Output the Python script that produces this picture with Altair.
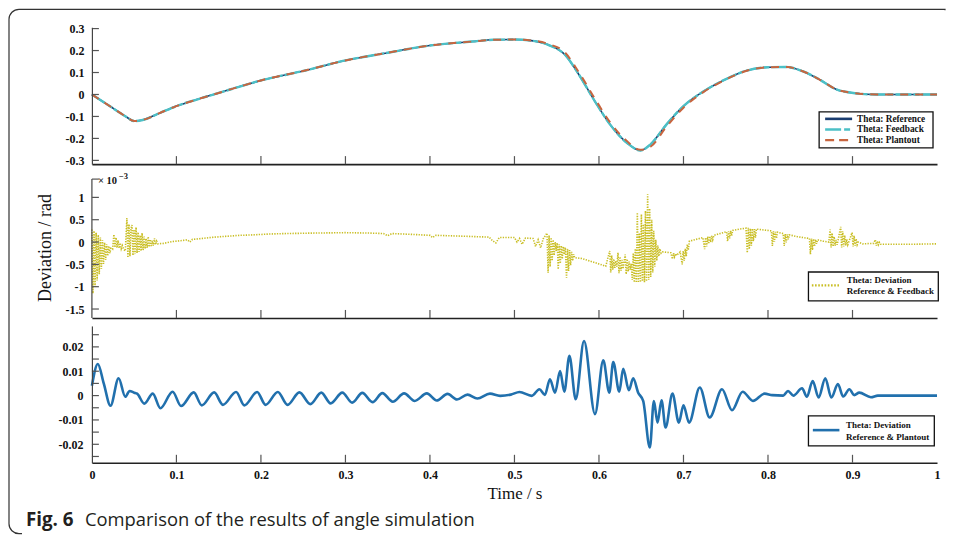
import altair as alt
import pandas as pd

# ---------------- data ----------------
# Top panel: Theta (rad)
theta_t = [0.0, 0.02, 0.04, 0.05, 0.06, 0.08, 0.10, 0.125, 0.15, 0.175, 0.20, 0.25, 0.30, 0.35,
           0.40, 0.45, 0.475, 0.50, 0.52, 0.54, 0.56, 0.575, 0.595, 0.613, 0.633, 0.649, 0.661,
           0.68, 0.70, 0.724, 0.747, 0.775, 0.80, 0.822, 0.841, 0.861, 0.881, 0.901, 0.929, 0.96, 1.0]
theta_reference = [0.0, -0.05, -0.10, -0.121, -0.116, -0.085, -0.053, -0.022, 0.007, 0.036, 0.064,
                   0.107, 0.155, 0.19, 0.223, 0.241, 0.249, 0.25, 0.245, 0.226, 0.18, 0.098, -0.03,
                   -0.136, -0.22, -0.255, -0.227, -0.136, -0.053, 0.015, 0.064, 0.109, 0.124, 0.125,
                   0.106, 0.068, 0.023, 0.007, 0.0, 0.0, 0.0]
theta_feedback = [0.0, -0.05, -0.10, -0.121, -0.116, -0.085, -0.053, -0.022, 0.007, 0.036, 0.064,
                  0.107, 0.155, 0.19, 0.223, 0.241, 0.249, 0.25, 0.245, 0.226, 0.18, 0.098, -0.03,
                  -0.136, -0.22, -0.255, -0.227, -0.136, -0.053, 0.015, 0.064, 0.109, 0.124, 0.125,
                  0.106, 0.068, 0.023, 0.007, 0.0, 0.0, 0.0]
theta_plantout = [0.0, -0.05, -0.10, -0.121, -0.116, -0.085, -0.053, -0.022, 0.007, 0.036, 0.064,
                  0.107, 0.155, 0.19, 0.223, 0.241, 0.249, 0.25, 0.246, 0.23, 0.19, 0.108, -0.018,
                  -0.126, -0.212, -0.252, -0.238, -0.146, -0.06, 0.012, 0.062, 0.108, 0.124, 0.125,
                  0.106, 0.068, 0.023, 0.007, 0.0, 0.0, 0.0]

# Middle panel: deviation reference & feedback, (time s, value x 1e-3 rad)
dev_feedback_points = [
    (0.0000, 0.28), (0.0012, -1.15), (0.0025, 0.25), (0.0037, -1.00), (0.0050, 0.21), (0.0062, -0.86),
    (0.0075, 0.16), (0.0087, -0.72), (0.0100, 0.10), (0.0112, -0.60), (0.0125, 0.04), (0.0137, -0.49),
    (0.0150, -0.01), (0.0162, -0.40), (0.0175, -0.05), (0.0187, -0.31), (0.0200, -0.09), (0.0212, -0.25),
    (0.0225, -0.14),
    (0.0245, -0.16), (0.0260, 0.17), (0.0272, -0.12), (0.0285, 0.10), (0.0297, -0.13), (0.0310, 0.04),
    (0.0322, -0.14), (0.0335, -0.02), (0.0347, -0.15), (0.0360, -0.08), (0.0375, -0.16),
    (0.0395, -0.20), (0.0414, 0.54), (0.0426, -0.35), (0.0438, 0.40), (0.0450, -0.32), (0.0462, 0.30),
    (0.0474, 0.38), (0.0486, -0.30), (0.0498, 0.28), (0.0510, -0.27), (0.0522, 0.33), (0.0534, -0.25),
    (0.0546, 0.22), (0.0558, -0.22), (0.0570, 0.15), (0.0582, -0.20), (0.0594, 0.20), (0.0606, -0.18),
    (0.0618, 0.12), (0.0630, -0.15), (0.0642, 0.08), (0.0654, -0.13), (0.0666, 0.12), (0.0678, -0.11),
    (0.0690, 0.06), (0.0702, -0.09), (0.0714, 0.03), (0.0726, -0.08), (0.0740, 0.08), (0.0752, -0.06),
    (0.0765, 0.02), (0.0780, -0.04),
    (0.085, -0.03), (0.095, 0.01), (0.105, 0.03), (0.113, 0.05), (0.116, 0.00), (0.119, 0.06),
    (0.130, 0.08), (0.145, 0.11), (0.160, 0.13), (0.175, 0.15), (0.190, 0.16), (0.210, 0.18),
    (0.230, 0.19), (0.260, 0.20), (0.300, 0.21), (0.330, 0.20), (0.345, 0.19), (0.350, 0.14),
    (0.355, 0.19), (0.380, 0.17), (0.400, 0.15), (0.403, 0.10), (0.407, 0.15), (0.440, 0.13),
    (0.470, 0.11), (0.474, 0.03), (0.478, -0.02), (0.482, 0.10), (0.500, 0.10), (0.503, 0.00),
    (0.506, 0.08), (0.509, -0.05), (0.513, 0.09), (0.522, 0.08), (0.525, -0.10), (0.528, 0.05),
    (0.531, -0.13), (0.534, 0.07),
    (0.5385, 0.20), (0.5398, -0.69), (0.5410, 0.15), (0.5422, -0.55), (0.5434, 0.10), (0.5446, -0.42),
    (0.5458, 0.05), (0.5470, -0.30), (0.5482, 0.00), (0.5494, -0.20), (0.5506, -0.02), (0.5518, -0.61),
    (0.5530, -0.05), (0.5542, -0.48), (0.5554, -0.08), (0.5566, -0.38), (0.5578, -0.10), (0.5590, -0.28),
    (0.5602, -0.12), (0.5616, -0.80), (0.5628, -0.15), (0.5640, -0.65), (0.5652, -0.18), (0.5664, -0.52),
    (0.5676, -0.22), (0.5688, -0.42), (0.5700, -0.27), (0.5712, -0.35),
    (0.580, -0.37), (0.590, -0.43), (0.600, -0.49), (0.608, -0.54),
    (0.6127, -0.20), (0.6139, -0.68), (0.6151, -0.30), (0.6163, -0.62), (0.6175, -0.38), (0.6187, -0.58),
    (0.6199, -0.42), (0.6211, -0.55), (0.6225, -0.24), (0.6237, -0.70), (0.6249, -0.33), (0.6261, -0.64),
    (0.6273, -0.40), (0.6285, -0.60), (0.6297, -0.45), (0.6310, -0.28), (0.6322, -0.72), (0.6334, -0.38),
    (0.6346, -0.66), (0.6358, -0.44), (0.6370, -0.62), (0.6382, -0.48), (0.6394, -0.85), (0.6406, -0.25),
    (0.6418, -0.90), (0.6430, -0.15), (0.6442, -0.91),
    (0.6454, 0.66), (0.6466, -0.91), (0.6478, 0.20), (0.6490, -0.90), (0.6502, 0.62), (0.6514, -0.88),
    (0.6526, 0.40), (0.6538, -0.90), (0.6550, 0.70), (0.6562, -0.88), (0.6576, 1.07), (0.6588, -0.85),
    (0.6600, 0.75), (0.6612, -0.78), (0.6624, 0.50), (0.6636, -0.68), (0.6648, 0.25), (0.6660, -0.55),
    (0.6672, 0.05), (0.6684, -0.42), (0.6696, -0.08), (0.6708, -0.32), (0.6720, -0.15), (0.6735, -0.25),
    (0.6750, -0.22), (0.6850, -0.24), (0.6870, -0.38), (0.6882, -0.25), (0.6894, -0.33), (0.6906, -0.26),
    (0.6918, -0.30), (0.6960, -0.22), (0.6985, -0.50), (0.6997, -0.20), (0.7009, -0.42), (0.7021, -0.15),
    (0.7033, -0.32), (0.7045, -0.05), (0.7057, -0.18), (0.7070, 0.02), (0.7150, 0.06), (0.7230, 0.10),
    (0.7250, -0.16), (0.7262, 0.10), (0.7274, -0.10), (0.7286, 0.12), (0.7298, -0.04), (0.7310, 0.13),
    (0.7322, 0.00), (0.7334, 0.14), (0.7346, 0.05), (0.7360, 0.15), (0.7450, 0.20), (0.7510, 0.23),
    (0.7522, 0.02), (0.7534, 0.24), (0.7546, 0.08), (0.7558, 0.25), (0.7570, 0.14), (0.7582, 0.26),
    (0.7660, 0.29), (0.7740, 0.31), (0.7755, -0.24), (0.7767, 0.32), (0.7779, -0.16), (0.7791, 0.30),
    (0.7803, -0.08), (0.7815, 0.30), (0.7827, 0.02), (0.7839, 0.29), (0.7851, 0.10), (0.7863, 0.29),
    (0.7950, 0.27), (0.8040, 0.25), (0.8052, -0.09), (0.8064, 0.24), (0.8076, 0.00), (0.8088, 0.23),
    (0.8100, 0.08), (0.8112, 0.22), (0.8180, 0.19), (0.8192, -0.09), (0.8204, 0.18), (0.8216, -0.01),
    (0.8228, 0.17), (0.8240, 0.06), (0.8252, 0.16), (0.8350, 0.12), (0.8450, 0.09), (0.8490, 0.08),
    (0.8502, -0.27), (0.8514, 0.08), (0.8526, -0.18), (0.8538, 0.07), (0.8550, -0.10), (0.8562, 0.06),
    (0.8574, -0.04), (0.8586, 0.05), (0.8650, 0.02), (0.8720, 0.00), (0.8735, 0.28), (0.8747, -0.12),
    (0.8759, 0.20), (0.8771, -0.10), (0.8783, 0.12), (0.8795, -0.08), (0.8807, 0.05), (0.8819, -0.06),
    (0.8860, 0.34), (0.8872, -0.12), (0.8884, 0.24), (0.8896, -0.10), (0.8908, 0.15), (0.8920, -0.08),
    (0.8932, 0.06), (0.8944, -0.06), (0.8995, 0.21), (0.9007, -0.10), (0.9019, 0.14), (0.9031, -0.08),
    (0.9043, 0.07), (0.9055, -0.06), (0.9067, 0.00), (0.9120, -0.04), (0.9250, -0.03), (0.9270, 0.05),
    (0.9282, -0.08), (0.9294, 0.02), (0.9306, -0.06), (0.9318, -0.01), (0.9330, -0.05), (0.9500, -0.05),
    (0.9700, -0.05), (1.0000, -0.04),
]

# Bottom panel: deviation reference & plantout, (time s, value rad)
dev_plantout_points = [
    (0.000, 0.004), (0.007, 0.013), (0.014, 0.005), (0.022, -0.0042), (0.0316, 0.0071), (0.0395, -0.0005),
    (0.0446, 0.0019), (0.050, 0.0012), (0.0535, 0.0008), (0.062, -0.0033), (0.072, 0.0008), (0.081, -0.0052),
    (0.0955, 0.0016), (0.1055, -0.0043), (0.1205, 0.0013), (0.130, -0.004), (0.1447, 0.0013), (0.155, -0.0038),
    (0.1706, 0.0015), (0.1805, -0.004), (0.1955, 0.0015), (0.2055, -0.0038), (0.220, 0.0015), (0.2315, -0.0038),
    (0.2455, 0.0013), (0.2585, -0.0035), (0.2715, 0.0012), (0.2825, -0.0032), (0.2963, 0.0012), (0.308, -0.0029),
    (0.320, 0.0011), (0.332, -0.0027), (0.3437, 0.0010), (0.356, -0.0025), (0.3694, 0.0009), (0.382, -0.0022),
    (0.3963, 0.0009), (0.408, -0.0020), (0.4208, 0.0007), (0.432, -0.0016), (0.4445, 0.0004), (0.456, -0.0012),
    (0.471, 0.0008), (0.483, -0.0001), (0.4957, 0.0004), (0.506, 0.0015), (0.5205, -0.0001), (0.5295, 0.0026),
    (0.536, 0.0003), (0.542, 0.0067), (0.548, 0.0012), (0.554, 0.0101), (0.559, 0.0016), (0.565, 0.0163),
    (0.5725, -0.0015), (0.5823, 0.0224), (0.5953, -0.0076), (0.6051, 0.0145), (0.6122, 0.0012), (0.6169, 0.0138),
    (0.624, 0.0016), (0.6287, 0.011), (0.6354, 0.0022), (0.6405, 0.0071), (0.6464, 0.0012), (0.6523, -0.0022),
    (0.6602, -0.0213), (0.665, -0.0022), (0.6693, -0.0111), (0.674, -0.0019), (0.6788, -0.0131), (0.687, 0.0008),
    (0.6945, -0.0111), (0.700, -0.004), (0.7066, -0.0111), (0.7193, 0.0033), (0.731, -0.009), (0.7456, 0.0026),
    (0.7574, -0.006), (0.770, 0.0016), (0.7822, -0.0022), (0.796, 0.0008), (0.805, 0.0002), (0.818, 0.0),
    (0.8237, 0.0019), (0.830, 0.0), (0.8403, 0.0030), (0.846, -0.0005), (0.8529, 0.0060), (0.8599, -0.0008),
    (0.8678, 0.0071), (0.875, -0.0008), (0.8827, 0.0047), (0.889, -0.0004), (0.8963, 0.0026), (0.902, 0.0002),
    (0.908, 0.0012), (0.9218, -0.0007), (0.930, 0.0), (1.000, 0.0),
]

x_tick_values = [0.1, 0.2, 0.3, 0.4, 0.5, 0.6, 0.7, 0.8, 0.9]
x_label_values = [0, 0.1, 0.2, 0.3, 0.4, 0.5, 0.6, 0.7, 0.8, 0.9, 1]
top_y_values = [-0.3, -0.2, -0.1, 0, 0.1, 0.2, 0.3]
mid_y_values = [-1.5, -1, -0.5, 0, 0.5, 1]
bot_y_values = [-0.02, -0.01, 0, 0.01, 0.02]
bot_y_minor = [-0.025, -0.015, -0.005, 0.005, 0.015, 0.025]

top_legend = ["Theta: Reference", "Theta: Feedback", "Theta: Plantout"]
mid_legend = ["Theta: Deviation", "Reference & Feedback"]
bot_legend = ["Theta: Deviation", "Reference & Plantout"]
caption_bold = "Fig. 6"
caption_text = "Comparison of the results of angle simulation"
x_title = "Time / s"
y_title = "Deviation / rad"
exp_base = "× 10"
exp_power = "−3"

# ---------------- styling ----------------
FONT = "Liberation Serif"
CAP_FONT = "Open Sans"
C_REF, C_FB, C_PL = "#1b3d70", "#4cc0c6", "#c8653f"
C_DFB, C_DPL = "#c9be24", "#2170ad"
W = 846
H1, H2, H3 = 137, 146, 137
LAB = "datum.value < 0 ? '-' + format(-datum.value, '~g') : format(datum.value, '~g')"
LEG_SIZE = 9

xscale = alt.Scale(domain=[0, 1], nice=False, zero=False)
ys1 = alt.Scale(domain=[-0.317, 0.306], nice=False, zero=False)
ys2 = alt.Scale(domain=[-1.700, 1.566], nice=False, zero=False)
ys3 = alt.Scale(domain=[-0.0276, 0.0286], nice=False, zero=False)


def x_axis(with_labels):
    if with_labels:
        return alt.Axis(values=x_label_values, labelExpr=LAB, labelFlush=False, labelOverlap=False,
                        ticks=False, tickSize=0, labelPadding=7, labelFont=FONT, labelFontSize=12,
                        labelFontWeight="bold", labelColor="#111", domain=True, domainColor="#222",
                        domainWidth=1.6, grid=False, titleFont=FONT, titleFontSize=17,
                        titleFontWeight="normal", titleColor="#111", titlePadding=5)
    return alt.Axis(labels=False, ticks=False, tickSize=0, domain=True, domainColor="#222",
                    domainWidth=1.6, grid=False)


def y_axis(values, pad, domain=True):
    return alt.Axis(values=values, labelExpr=LAB, labelOverlap=False, labelFlush=False, ticks=False,
                    tickSize=0, labelPadding=pad, labelFont=FONT, labelFontSize=12,
                    labelFontWeight="bold", labelColor="#111", domain=domain, domainColor="#444",
                    domainWidth=1.2, grid=False, zindex=1)


def X(xaxis, title=""):
    if title:
        return alt.X("t:Q", scale=xscale, axis=xaxis, title=title)
    return alt.X("t:Q", scale=xscale, axis=xaxis, title=None)


def Y(ys, yaxis):
    return alt.Y("v:Q", scale=ys, axis=yaxis, title=None)


def one():
    return pd.DataFrame({"k": [0]})


def prule(x, x2, y, y2, color="#222", width=1.0, dash=None):
    kw = dict(color=color, strokeWidth=width)
    if dash:
        kw["strokeDash"] = dash
    return alt.Chart(one()).mark_rule(**kw).encode(
        x=alt.value(x), x2=alt.value(x2), y=alt.value(y), y2=alt.value(y2))


def ptext(txt, x, y, size, weight="normal", font=FONT, align="left", baseline="middle", angle=0,
          color="#111"):
    kw = dict(font=font, fontSize=size, fontWeight=weight, align=align, baseline=baseline, color=color)
    if angle:
        kw["angle"] = angle
    return alt.Chart(one()).mark_text(**kw).encode(x=alt.value(x), y=alt.value(y), text=alt.value(txt))


def prect(x, x2, y, y2, stroke="#111", width=1.3, fill="white", **kw):
    return alt.Chart(one()).mark_rect(fill=fill, stroke=stroke, strokeWidth=width, **kw).encode(
        x=alt.value(x), x2=alt.value(x2), y=alt.value(y), y2=alt.value(y2))


def xticks(xaxis, H, title=""):
    return alt.Chart(pd.DataFrame({"t": x_tick_values})).mark_rule(color="#555", strokeWidth=1.2).encode(
        x=X(xaxis, title), y=alt.value(H), y2=alt.value(H - 8))


def yticks(values, ys, yaxis):
    return alt.Chart(pd.DataFrame({"v": values})).mark_rule(color="#555", strokeWidth=1.2).encode(
        y=Y(ys, yaxis), x=alt.value(0), x2=alt.value(7))


# ---------------- top panel ----------------
xa1 = x_axis(False)
ya1 = y_axis(top_y_values, 8)
border = prect(-83, 854, -18, 507, stroke="#333", width=1.2, fill="transparent",
               cornerRadiusTopLeft=10, cornerRadiusBottomLeft=10)
hide_right = prule(854, 854, -17, 508, color="white", width=3)
hide_bottom = prule(-70, 855, 507, 507, color="white", width=2.5)


def theta_line(values, **mark):
    df = pd.DataFrame({"t": theta_t, "v": values})
    return alt.Chart(df).mark_line(interpolate="monotone", **mark).encode(x=X(xa1), y=Y(ys1, ya1))


top_layers = [
    border, hide_right, hide_bottom,
    theta_line(theta_reference, color=C_REF, strokeWidth=1.6),
    theta_line(theta_feedback, color=C_FB, strokeWidth=2.4, strokeDash=[16, 2, 6, 2]),
    theta_line(theta_plantout, color=C_PL, strokeWidth=2.0, strokeDash=[8, 7]),
    xticks(xa1, H1), yticks(top_y_values, ys1, ya1),
    prect(728, 842, 84.7, 120.7),
]
top_rows = [91.7, 102.3, 113.0]
top_sym = [dict(color=C_REF, width=2.6), dict(color=C_FB, width=2.6, dash=[16, 3, 6, 3]),
           dict(color=C_PL, width=2.4, dash=[9, 5])]
for lbl, ry, s in zip(top_legend, top_rows, top_sym):
    top_layers.append(prule(734, 761, ry, ry, color=s["color"], width=s["width"], dash=s.get("dash")))
    top_layers.append(ptext(lbl, 766, ry, LEG_SIZE + 0.3, weight="bold"))
top = alt.layer(*top_layers).properties(width=W, height=H1)

# ---------------- middle panel ----------------
xa2 = x_axis(False)
ya2 = y_axis(mid_y_values, 8, domain=False)
df_fb = pd.DataFrame({"t": [p[0] for p in dev_feedback_points], "v": [p[1] for p in dev_feedback_points]})
mid_layers = [
    alt.Chart(df_fb).mark_line(color=C_DFB, strokeWidth=1.6, strokeDash=[1.3, 1.3]).encode(
        x=X(xa2), y=Y(ys2, ya2)),
    prule(0, 0, 7, H2, color="#444", width=1.2),
    prule(0, 7, 7, 7, color="#555", width=1.2),
    xticks(xa2, H2), yticks(mid_y_values, ys2, ya2),
    ptext(exp_base, 6, 9, 10.5, weight="bold"),
    ptext(exp_power, 27, 4, 8.5, weight="bold"),
    ptext(y_title, -46, 76, 18, align="center", angle=270),
    prect(717.3, 847.3, 100, 129),
    prule(720.7, 749, 113.3, 113.3, color=C_DFB, width=2.2, dash=[1.6, 1.6]),
    ptext(mid_legend[0], 755.7, 108, LEG_SIZE, weight="bold"),
    ptext(mid_legend[1], 755.7, 119.5, LEG_SIZE, weight="bold"),
]
mid = alt.layer(*mid_layers).properties(width=W, height=H2)

# ---------------- bottom panel ----------------
xa3 = x_axis(True)
ya3 = y_axis(bot_y_values, 9)
df_pl = pd.DataFrame({"t": [p[0] for p in dev_plantout_points], "v": [p[1] for p in dev_plantout_points]})
bot_layers = [
    alt.Chart(df_pl).mark_line(color=C_DPL, strokeWidth=2.6, interpolate="monotone").encode(
        x=X(xa3, x_title), y=Y(ys3, ya3)),
    xticks(xa3, H3, x_title), yticks(bot_y_values + bot_y_minor, ys3, ya3),
    prect(717.3, 843.3, 90, 120),
    prule(721.7, 748.3, 104.3, 104.3, color=C_DPL, width=2.6),
    ptext(bot_legend[0], 755, 99.5, LEG_SIZE, weight="bold"),
    ptext(bot_legend[1], 755, 110.7, LEG_SIZE, weight="bold"),
    ptext(caption_bold, -66, 200.5, 18.8, weight="bold", font=CAP_FONT, baseline="alphabetic",
          color="#231f20"),
    ptext(caption_text, -7, 200.5, 18.4, font=CAP_FONT, baseline="alphabetic", color="#231f20"),
]
bot = alt.layer(*bot_layers).properties(width=W, height=H3)

chart = alt.vconcat(top, mid, bot, spacing=8, bounds="flush").properties(
    padding=0, background="white").configure_view(stroke=None)

chart.save("out.html", embed_options={"renderer": "svg", "actions": False})
